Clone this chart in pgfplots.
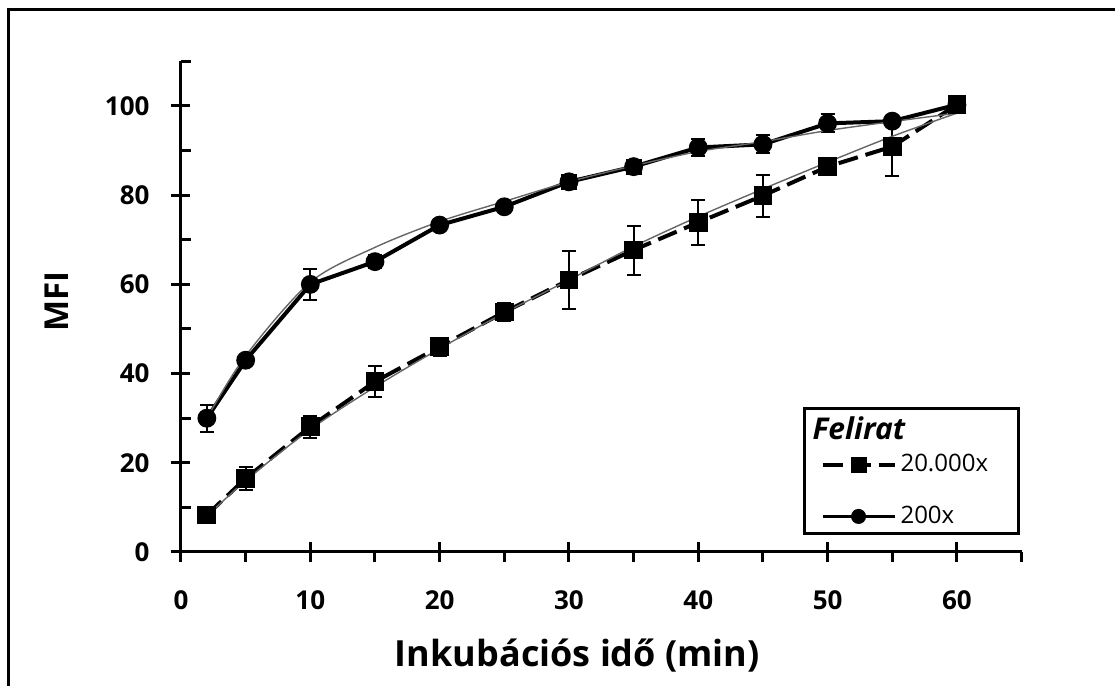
\documentclass[border=0pt]{standalone}
\usepackage{pgfplots}
\pgfplotsset{compat=1.18}
\usepackage{pgfplotstable}
\usepackage{fontspec}
\setmainfont{Open Sans}

\pgfplotsset{
  wide legend/.style={legend image code/.code={\draw[mark repeat=2,mark phase=2,##1] plot coordinates {(0pt,0pt) (18pt,0pt) (36pt,0pt)};}},
  tall legend/.style={legend image code/.code={\path (0pt,16pt); \draw[mark repeat=2,mark phase=2,##1] plot coordinates {(0pt,0pt) (18pt,0pt) (36pt,0pt)};}},
}

\pgfplotstableread{
x y e
2 30.0 3.0
5 43.0 1.0
10 60.0 3.5
15 65.1 1.5
20 73.3 1.0
25 77.4 1.0
30 83.0 1.0
35 86.4 1.5
40 90.7 2.0
45 91.4 2.0
50 96.1 2.0
55 96.6 1.0
60 100.3 0.5
}\dataup

\pgfplotstableread{
x y e
2 8.3 1.5
5 16.5 2.5
10 28.1 2.5
15 38.2 3.5
20 46.0 2.0
25 53.8 2.0
30 61.0 6.5
35 67.7 5.5
40 73.9 5.0
45 79.9 4.7
50 86.4 1.0
55 90.9 6.5
60 100.3 0.5
}\datalow

\pgfplotstableread{
x y
2 30.0
5 44.0
10 60.5
15 68.3
20 74.1
25 78.6
30 83.0
35 86.6
40 89.8
45 92.0
50 94.5
55 96.5
60 98.4
}\trendup

\pgfplotstableread{
x y
2 8.0
5 16.0
10 27.5
15 37.0
20 45.6
25 53.6
30 61.0
35 68.5
40 75.2
45 81.4
50 87.4
55 93.2
60 98.4
}\trendlow

\begin{document}
\begin{tikzpicture}
\useasboundingbox (0,0) rectangle (557.5pt,343pt);
\draw[line width=1.5pt] (4pt,0pt) -- (4pt,338pt) -- (557.5pt,338pt);
\begin{axis}[
  at={(90.5pt,67pt)}, anchor=south west,
  scale only axis, width=420.3pt, height=245.3pt,
  xmin=0, xmax=65, ymin=0, ymax=110,
  axis lines*=left,
  axis line style={line width=1.5pt},
  xtick={0,10,...,60}, minor xtick={5,15,...,65},
  ytick={0,20,...,100}, minor ytick={10,30,...,110},
  tick align=center,
  major tick length=9.5pt, minor tick length=5pt,
  tick style={line width=1.5pt, black},
  every minor x tick/.append style={yshift=-2.5pt},
  every minor y tick/.append style={xshift=2.5pt},
  /pgf/number format/assume math mode=true,
  tick label style={font=\fontsize{13}{13}\selectfont\bfseries},
  xticklabel style={yshift=-11pt},
  yticklabel style={xshift=-7.5pt},
  xlabel={Inkubációs idő (min)},
  ylabel={MFI},
  xlabel style={font=\fontsize{18}{18}\selectfont\bfseries, at={(axis description cs:0.4716,-0.2324)}, anchor=base},
  ylabel style={font=\fontsize{16.5}{16.5}\selectfont\bfseries, at={(axis description cs:-0.134,0.51)}, anchor=base},
  clip=false,
  wide legend,
  legend cell align=left,
  legend style={at={(0.74,0.2955)}, anchor=north west, draw=black, line width=1.5pt,
    inner xsep=8pt, inner ysep=1.5pt, row sep=2pt,
    font=\fontsize{12}{13}\selectfont},
]
% legend
\addlegendimage{empty legend}
\addlegendentry{\hspace*{-44pt}\fontsize{15}{15}\selectfont\bfseries\itshape\rule{0pt}{12pt}Felirat}
\addlegendimage{line width=2pt, dash pattern=on 10pt off 4pt, mark=square*, mark size=3pt, mark options={solid}}
\addlegendentry{20.000x\hspace*{5pt}}
\addlegendimage{line width=1.5pt, solid, mark=*, mark size=3pt, tall legend}
\addlegendentry{200x}

% lower series
\addplot[forget plot, black, line width=2pt, dash pattern=on 10pt off 4pt,
  mark=square*, mark size=3.7pt, mark options={solid},
  error bars/.cd, y dir=both, y explicit,
  error bar style={line width=1pt, solid},
  error mark options={rotate=90, mark size=3.5pt, line width=1pt, solid}]
  table[x=x, y=y, y error=e] {\datalow};
% upper series
\addplot[forget plot, black, line width=2pt, solid,
  mark=*, mark size=3.7pt,
  error bars/.cd, y dir=both, y explicit,
  error bar style={line width=1pt, solid},
  error mark options={rotate=90, mark size=3.5pt, line width=1pt, solid}]
  table[x=x, y=y, y error=e] {\dataup};
% square markers on the upper series
\addplot[forget plot, only marks, black, mark=square*, mark size=3.7pt]
  coordinates {(30,83.0) (35,86.4) (60,100.3)};
% trend lines
\addplot[forget plot, gray!80!black, line width=0.7pt, smooth, no marks] table[x=x,y=y] {\trendup};
\addplot[forget plot, gray!80!black, line width=0.7pt, smooth, no marks] table[x=x,y=y] {\trendlow};
\end{axis}
\end{tikzpicture}
\end{document}
